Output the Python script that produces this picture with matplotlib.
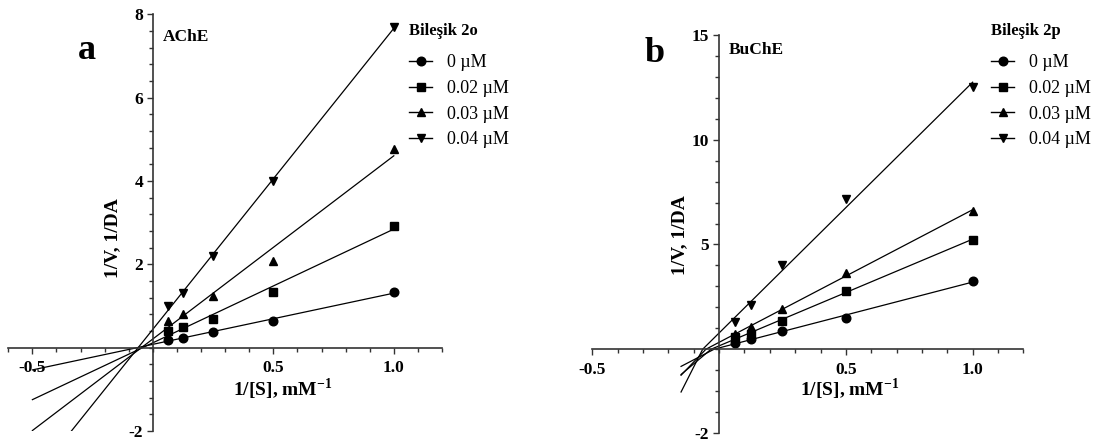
import numpy as np
import matplotlib
matplotlib.use("Agg")
import matplotlib.pyplot as plt
from matplotlib.ticker import FixedLocator, FixedFormatter
from matplotlib.lines import Line2D

plt.rcParams["font.family"] = ["Liberation Serif", "DejaVu Serif"]
plt.rcParams["mathtext.fontset"] = "custom"
plt.rcParams["mathtext.rm"] = "Liberation Serif"
plt.rcParams["mathtext.bf"] = "Liberation Serif:bold"

# Substrate reciprocal concentrations, 1/[S] (mM^-1)
inv_s = [0.0625, 0.125, 0.25, 0.5, 1.0]
conc_labels = ["0 µM", "0.02 µM", "0.03 µM", "0.04 µM"]
markers = ["o", "s", "^", "v"]
marker_sizes = [6.2, 5.2, 6.2, 6.2]

# Panel a: AChE with Bileşik 2o, 1/V values
ache_0 = [0.18, 0.24, 0.38, 0.65, 1.33]
ache_002 = [0.41, 0.50, 0.69, 1.34, 2.93]
ache_003 = [0.65, 0.81, 1.25, 2.09, 4.76]
ache_004 = [1.00, 1.30, 2.20, 4.00, 7.70]

# Panel b: BuChE with Bileşik 2p, 1/V values
buche_0 = [0.32, 0.48, 0.85, 1.47, 3.28]
buche_002 = [0.56, 0.72, 1.36, 2.80, 5.23]
buche_003 = [0.72, 1.04, 1.92, 3.63, 6.60]
buche_004 = [1.28, 2.11, 4.00, 7.15, 12.53]

W, H = 1095, 445
fig = plt.figure(figsize=(W / 100, H / 100), dpi=100)


def px_axes(left, top, right, bottom):
    return fig.add_axes([left / W, 1 - bottom / H, (right - left) / W, (bottom - top) / H])


def style_axes(ax):
    for s in ("top", "right"):
        ax.spines[s].set_visible(False)
    ax.spines["left"].set_position(("data", 0))
    ax.spines["bottom"].set_position(("data", 0))
    for s in ("left", "bottom"):
        ax.spines[s].set_linewidth(1.2)
        ax.spines[s].set_color("#333333")
    ax.tick_params(axis="x", which="major", pad=5)
    ax.tick_params(axis="y", which="major", pad=3)
    ax.tick_params(which="major", direction="out", length=4, width=1.0, color="#333333",
                   labelsize=12.5)
    ax.tick_params(which="minor", direction="out", length=3, width=1.0, color="#333333")
    for lab in ax.get_xticklabels() + ax.get_yticklabels():
        lab.set_fontweight("bold")
    ax.patch.set_alpha(0)


def draw_series(ax, series, x_from, clip=True):
    handles = []
    xs = np.asarray(inv_s)
    for ys, mk, ms, lab in zip(series, markers, marker_sizes, conc_labels):
        ys = np.asarray(ys)
        slope, icpt = np.polyfit(xs, ys, 1)
        xl = np.linspace(x_from, 1.0, 400)
        ax.plot(xl, slope * xl + icpt, color="black", lw=0.9, clip_on=clip)
        ax.plot(xs, ys, linestyle="none", marker=mk, color="black", ms=ms, clip_on=False)
        handles.append(Line2D([], [], color="black", lw=1.0, marker=mk, ms=ms, label=lab))
    return handles


def add_legend(ax, handles, title, x_px, y_px):
    leg = ax.legend(handles=handles, title=title, loc="upper left",
                    bbox_to_anchor=(x_px / W, 1 - y_px / H), bbox_transform=fig.transFigure,
                    frameon=False, alignment="left", handlelength=1.3, handletextpad=0.8,
                    labelspacing=0.48, borderpad=0, borderaxespad=0,
                    prop={"size": 13},
                    title_fontproperties={"size": 12, "weight": "bold"})
    leg._legend_box.sep = 11
    return leg


xlabel = r"1/[S], mM$^{\mathbf{-1}}$"

# ---------------- Panel a ----------------
ax1 = px_axes(8.3, 14.3, 442, 431)
ax1.set_xlim(-0.6, 1.2)
ax1.set_ylim(-2, 8)
h1 = draw_series(ax1, [ache_0, ache_002, ache_003, ache_004], -0.5)
ax1.xaxis.set_major_locator(FixedLocator([-0.5, 0.5, 1.0]))
ax1.xaxis.set_major_formatter(FixedFormatter(["-0.5", "0.5", "1.0"]))
ax1.xaxis.set_minor_locator(FixedLocator(np.round(np.arange(-0.6, 1.21, 0.1), 2)))
ax1.yaxis.set_major_locator(FixedLocator([-2, 2, 4, 6, 8]))
ax1.yaxis.set_major_formatter(FixedFormatter(["-2", "2", "4", "6", "8"]))
ax1.yaxis.set_minor_locator(FixedLocator(np.round(np.arange(-2, 8.01, 0.4), 2)))
style_axes(ax1)
add_legend(ax1, h1, "Bileşik 2o", 409, 23)

fig.text(113 / W, 1 - 238 / H, "1/V, 1/DA", rotation=90, ha="center", va="center",
         fontsize=14, fontweight="bold")
fig.text(283 / W, 1 - 389 / H, xlabel, ha="center", va="center", fontsize=14,
         fontweight="bold")
fig.text(163 / W, 1 - 41 / H, "AChE", ha="left", va="baseline", fontsize=12.5, fontweight="bold")
fig.text(87 / W, 1 - 59 / H, "a", ha="center", va="baseline", fontsize=26, fontweight="bold")

# ---------------- Panel b ----------------
def seg_fwd(y):
    y = np.asarray(y, dtype=float)
    return np.where(y < 0, 2.0 * y, y)


def seg_inv(t):
    t = np.asarray(t, dtype=float)
    return np.where(t < 0, t / 2.0, t)


ax2 = px_axes(592.3, 35, 1023.4, 433)
ax2.set_yscale("function", functions=(seg_fwd, seg_inv))
ax2.set_xlim(-0.5, 1.2)
ax2.set_ylim(-2, 15)
h2 = draw_series(ax2, [buche_0, buche_002, buche_003, buche_004], -0.15)
ax2.xaxis.set_major_locator(FixedLocator([-0.5, 0.5, 1.0]))
ax2.xaxis.set_major_formatter(FixedFormatter(["-0.5", "0.5", "1.0"]))
ax2.xaxis.set_minor_locator(FixedLocator(np.round(np.arange(-0.5, 1.21, 0.1), 2)))
ax2.yaxis.set_major_locator(FixedLocator([-2, 5, 10, 15]))
ax2.yaxis.set_major_formatter(FixedFormatter(["-2", "5", "10", "15"]))
ax2.yaxis.set_minor_locator(FixedLocator(list(np.arange(-2, 0, 0.5)) + list(range(0, 16))))
style_axes(ax2)
add_legend(ax2, h2, "Bileşik 2p", 991, 23)

fig.text(680 / W, 1 - 235 / H, "1/V, 1/DA", rotation=90, ha="center", va="center",
         fontsize=14, fontweight="bold")
fig.text(850 / W, 1 - 389 / H, xlabel, ha="center", va="center", fontsize=14,
         fontweight="bold")
fig.text(729 / W, 1 - 54 / H, "BuChE", ha="left", va="baseline", fontsize=12.5, fontweight="bold")
fig.text(655 / W, 1 - 62 / H, "b", ha="center", va="baseline", fontsize=26, fontweight="bold")

fig.savefig("out.png", dpi=100)
